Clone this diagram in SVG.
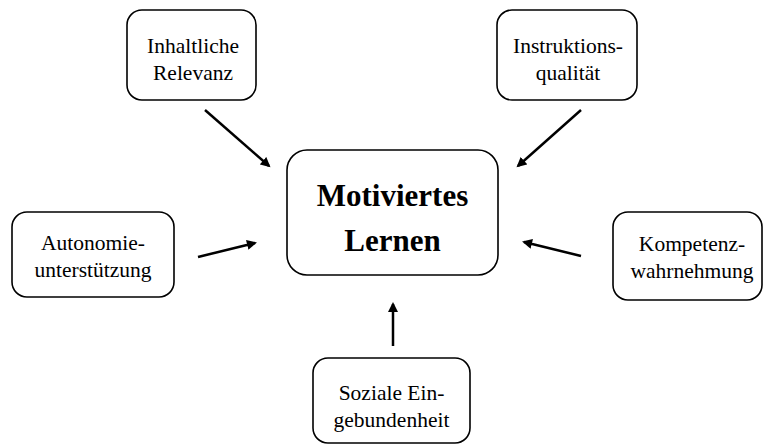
<svg xmlns="http://www.w3.org/2000/svg" width="763" height="444" viewBox="0 0 763 444">
  <style>
    .box { fill: #ffffff; stroke: #000000; stroke-width: 1.6; }
    .lbl { font-family: "Liberation Serif", "Times New Roman", serif; font-size: 21.5px; fill: #000000; text-anchor: middle; }
    .main { font-family: "Liberation Serif", "Times New Roman", serif; font-size: 31px; font-weight: bold; fill: #000000; text-anchor: middle; }
    .arrow { stroke: #000000; stroke-width: 2.5; fill: none; marker-end: url(#head); }
  </style>
  <defs>
    <marker id="head" viewBox="0 0 10 10" refX="8" refY="5" markerWidth="4.2" markerHeight="4" orient="auto" markerUnits="strokeWidth">
      <path d="M0,0 L10,5 L0,10 z" fill="#000000"/>
    </marker>
  </defs>
  <rect width="763" height="444" fill="#ffffff"/>

  <g id="connectors">
    <line class="arrow" x1="205" y1="110" x2="269" y2="166"/>
    <line class="arrow" x1="581" y1="110" x2="518" y2="166"/>
    <line class="arrow" x1="198" y1="257" x2="255" y2="243"/>
    <line class="arrow" x1="581" y1="256" x2="524" y2="242"/>
    <line class="arrow" x1="393" y1="346" x2="393" y2="304"/>
  </g>

  <g id="motiviertes-lernen">
    <rect class="box" x="287" y="150" width="211" height="125" rx="20" ry="20"/>
    <text class="main" x="392.5" y="206">Motiviertes</text>
    <text class="main" x="392.5" y="251">Lernen</text>
  </g>

  <g id="inhaltliche-relevanz">
    <rect class="box" x="127" y="10" width="129" height="90" rx="15" ry="15"/>
    <text class="lbl" x="193" y="53">Inhaltliche</text>
    <text class="lbl" x="193" y="80">Relevanz</text>
  </g>

  <g id="instruktionsqualitaet">
    <rect class="box" x="497" y="10" width="140" height="90" rx="15" ry="15"/>
    <text class="lbl" x="568" y="53">Instruktions-</text>
    <text class="lbl" x="568" y="80">qualität</text>
  </g>

  <g id="autonomieunterstuetzung">
    <rect class="box" x="12" y="212" width="162" height="85" rx="15" ry="15"/>
    <text class="lbl" x="93" y="250">Autonomie-</text>
    <text class="lbl" x="93" y="277">unterstützung</text>
  </g>

  <g id="kompetenzwahrnehmung">
    <rect class="box" x="613" y="212" width="149" height="88" rx="15" ry="15"/>
    <text class="lbl" x="692" y="251">Kompetenz-</text>
    <text class="lbl" x="692" y="278">wahrnehmung</text>
  </g>

  <g id="soziale-eingebundenheit">
    <rect class="box" x="313" y="358" width="157" height="85" rx="15" ry="15"/>
    <text class="lbl" x="391.5" y="400">Soziale Ein-</text>
    <text class="lbl" x="391.5" y="427">gebundenheit</text>
  </g>
</svg>
